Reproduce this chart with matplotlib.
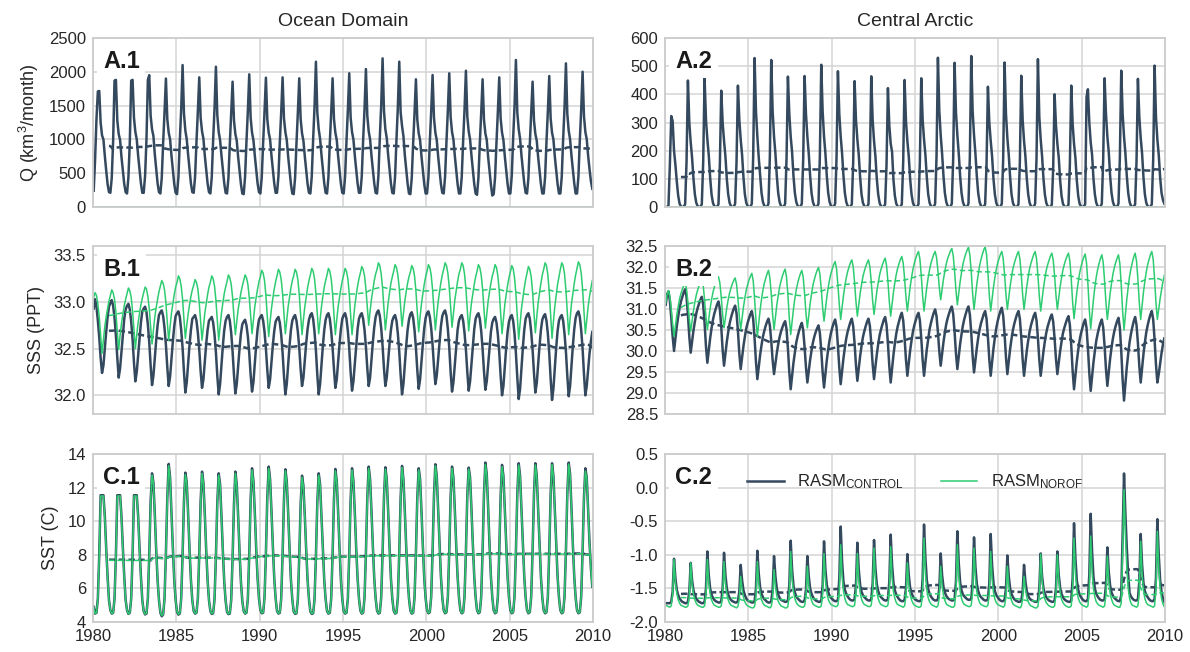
import numpy as np
import pandas as pd
import matplotlib
matplotlib.use("Agg")
import matplotlib.pyplot as plt

CTRL_COLOR = "#34495e"
NOROF_COLOR = "#2ecc71"

years = list(range(1980, 2010))
xtick_years = [1980, 1985, 1990, 1995, 2000, 2005, 2010]
col_titles = ["Ocean Domain", "Central Arctic"]
row_ylabels = ["Q (km$\\mathregular{^3}$/month)", "SSS (PPT)", "SST (C)"]
panel_labels = [["A.1", "A.2"], ["B.1", "B.2"], ["C.1", "C.2"]]
legend_labels = ["$\\mathregular{RASM_{CONTROL}}$", "$\\mathregular{RASM_{NOROF}}$"]

# ---- A.1 runoff, ocean domain (km3/month), monthly rows per year ----
q_ocean_ctrl = [
    [240, 700, 1300, 1710, 1716, 1250, 1060, 1000, 760, 540, 340, 220],
    [210, 430, 980, 1870, 1880, 1280, 1080, 990, 740, 540, 340, 220],
    [200, 440, 960, 1870, 1880, 1320, 1110, 1000, 760, 560, 350, 210],
    [210, 460, 1000, 1880, 1950, 1350, 1150, 1050, 780, 560, 350, 220],
    [200, 430, 950, 1400, 1900, 1300, 1100, 1000, 760, 550, 340, 210],
    [190, 440, 980, 1450, 2100, 1380, 1130, 1000, 770, 560, 350, 220],
    [210, 450, 960, 1420, 1918, 1320, 1120, 1010, 760, 550, 350, 220],
    [200, 440, 990, 1460, 2075, 1360, 1110, 990, 760, 560, 350, 210],
    [200, 430, 930, 1380, 1854, 1280, 1080, 980, 740, 540, 340, 200],
    [190, 450, 970, 1420, 1963, 1320, 1100, 990, 760, 550, 350, 220],
    [200, 440, 950, 1410, 1913, 1300, 1100, 1000, 760, 550, 350, 210],
    [210, 450, 960, 1400, 1918, 1310, 1110, 990, 750, 550, 340, 200],
    [190, 430, 940, 1400, 1904, 1300, 1090, 980, 750, 540, 340, 210],
    [200, 450, 1000, 1480, 2149, 1400, 1150, 1010, 770, 560, 350, 210],
    [200, 440, 950, 1400, 1904, 1300, 1100, 990, 750, 550, 340, 210],
    [200, 450, 970, 1430, 1978, 1320, 1110, 1000, 760, 550, 350, 210],
    [210, 450, 990, 1450, 2041, 1350, 1120, 1000, 760, 560, 350, 210],
    [200, 460, 1020, 1500, 2199, 1420, 1150, 1020, 770, 560, 350, 210],
    [200, 450, 1000, 1480, 2150, 1400, 1200, 1050, 770, 560, 350, 200],
    [190, 430, 940, 1390, 1889, 1290, 1090, 990, 750, 540, 340, 200],
    [200, 440, 960, 1420, 1953, 1320, 1100, 990, 750, 550, 340, 210],
    [200, 450, 970, 1430, 1978, 1330, 1110, 1000, 760, 550, 340, 200],
    [200, 450, 980, 1440, 2016, 1340, 1120, 1000, 760, 550, 340, 200],
    [180, 430, 940, 1390, 1889, 1290, 1090, 990, 740, 540, 330, 170],
    [190, 440, 950, 1410, 1918, 1310, 1100, 990, 750, 550, 340, 200],
    [200, 460, 1010, 1490, 2175, 1400, 1150, 1010, 760, 560, 350, 210],
    [200, 430, 930, 1380, 1854, 1280, 1080, 980, 740, 540, 340, 200],
    [200, 440, 960, 1420, 1938, 1310, 1100, 1000, 750, 550, 340, 200],
    [200, 450, 1000, 1470, 2125, 1380, 1130, 1000, 760, 560, 350, 200],
    [200, 450, 980, 1440, 2001, 1340, 1110, 1000, 760, 560, 380, 270],
]
# no-runoff experiment: zero river discharge in every month
q_ocean_norof = [[0] * 12 for _ in years]

# ---- A.2 runoff, central Arctic ----
q_arctic_ctrl = [
    [0, 0, 5, 150, 323, 305, 200, 150, 90, 40, 12, 2],
    [0, 0, 10, 160, 449, 300, 230, 175, 100, 45, 15, 3],
    [0, 0, 10, 160, 457, 310, 240, 185, 105, 45, 15, 3],
    [0, 0, 10, 150, 413, 300, 235, 180, 100, 45, 15, 3],
    [0, 0, 12, 160, 431, 310, 240, 185, 105, 45, 15, 3],
    [0, 0, 12, 180, 529, 340, 250, 175, 110, 50, 18, 4],
    [0, 0, 12, 180, 522, 340, 250, 190, 110, 50, 18, 4],
    [0, 0, 12, 170, 463, 330, 250, 195, 110, 50, 18, 4],
    [0, 0, 12, 170, 465, 330, 250, 190, 110, 50, 18, 4],
    [0, 0, 12, 180, 505, 340, 250, 190, 110, 50, 18, 4],
    [0, 0, 12, 175, 482, 330, 250, 190, 110, 50, 18, 4],
    [0, 0, 10, 160, 447, 310, 240, 185, 105, 45, 15, 3],
    [0, 0, 10, 160, 464, 310, 235, 180, 100, 45, 15, 3],
    [0, 0, 10, 150, 422, 290, 225, 195, 95, 40, 12, 2],
    [0, 0, 10, 160, 451, 305, 235, 180, 100, 45, 15, 3],
    [0, 0, 10, 160, 457, 310, 240, 185, 105, 45, 15, 3],
    [0, 0, 12, 180, 530, 340, 255, 190, 110, 50, 18, 4],
    [0, 0, 12, 175, 512, 335, 255, 190, 110, 50, 18, 4],
    [0, 0, 12, 180, 536, 340, 255, 190, 110, 50, 18, 4],
    [0, 0, 10, 150, 427, 300, 235, 180, 100, 45, 15, 3],
    [0, 0, 12, 175, 513, 330, 245, 185, 105, 45, 15, 3],
    [0, 0, 10, 160, 466, 310, 235, 180, 100, 45, 15, 3],
    [0, 0, 12, 175, 525, 320, 240, 180, 100, 45, 15, 3],
    [0, 0, 8, 140, 400, 290, 225, 175, 95, 40, 12, 2],
    [0, 0, 8, 150, 431, 295, 225, 175, 95, 40, 12, 2],
    [0, 0, 10, 390, 418, 300, 230, 185, 100, 45, 15, 3],
    [0, 0, 12, 170, 457, 330, 250, 195, 110, 50, 18, 4],
    [0, 0, 12, 175, 484, 330, 250, 190, 110, 50, 18, 4],
    [0, 0, 10, 165, 455, 320, 245, 190, 105, 45, 15, 3],
    [0, 0, 10, 170, 502, 320, 240, 185, 105, 50, 25, 12],
]
q_arctic_norof = [[0] * 12 for _ in years]

# ---- B.1 sea surface salinity, ocean domain (PPT) ----
sss_ocean_ctrl = [
    [32.93, 33.03, 32.95, 32.80, 32.62, 32.40, 32.24, 32.32, 32.50, 32.68, 32.84, 32.95],
    [32.99, 33.02, 32.96, 32.83, 32.64, 32.40, 32.19, 32.29, 32.47, 32.66, 32.82, 32.92],
    [32.96, 32.98, 32.92, 32.79, 32.60, 32.35, 32.15, 32.25, 32.43, 32.62, 32.78, 32.90],
    [32.93, 32.95, 32.89, 32.76, 32.57, 32.32, 32.11, 32.21, 32.40, 32.59, 32.75, 32.86],
    [32.89, 32.91, 32.85, 32.72, 32.54, 32.30, 32.10, 32.20, 32.39, 32.58, 32.74, 32.85],
    [32.88, 32.90, 32.84, 32.70, 32.51, 32.25, 32.03, 32.14, 32.34, 32.54, 32.70, 32.82],
    [32.84, 32.86, 32.80, 32.67, 32.49, 32.26, 32.08, 32.17, 32.36, 32.55, 32.70, 32.80],
    [32.82, 32.84, 32.78, 32.65, 32.46, 32.21, 32.01, 32.12, 32.32, 32.53, 32.70, 32.80],
    [32.84, 32.86, 32.80, 32.67, 32.47, 32.22, 32.02, 32.12, 32.31, 32.50, 32.66, 32.76],
    [32.79, 32.81, 32.75, 32.63, 32.45, 32.22, 32.04, 32.14, 32.34, 32.54, 32.71, 32.81],
    [32.84, 32.86, 32.80, 32.68, 32.50, 32.27, 32.08, 32.17, 32.35, 32.54, 32.69, 32.79],
    [32.82, 32.84, 32.78, 32.65, 32.46, 32.21, 32.01, 32.12, 32.32, 32.53, 32.70, 32.80],
    [32.84, 32.86, 32.80, 32.68, 32.51, 32.28, 32.10, 32.19, 32.37, 32.56, 32.71, 32.81],
    [32.86, 32.88, 32.82, 32.68, 32.48, 32.22, 32.01, 32.12, 32.32, 32.53, 32.70, 32.81],
    [32.86, 32.88, 32.82, 32.69, 32.51, 32.28, 32.08, 32.17, 32.36, 32.55, 32.71, 32.82],
    [32.86, 32.88, 32.82, 32.69, 32.50, 32.25, 32.05, 32.15, 32.34, 32.54, 32.71, 32.82],
    [32.86, 32.88, 32.82, 32.70, 32.52, 32.29, 32.10, 32.19, 32.38, 32.57, 32.73, 32.84],
    [32.89, 32.91, 32.85, 32.72, 32.53, 32.29, 32.10, 32.19, 32.37, 32.55, 32.70, 32.80],
    [32.84, 32.86, 32.80, 32.66, 32.47, 32.22, 32.01, 32.12, 32.32, 32.53, 32.70, 32.81],
    [32.87, 32.89, 32.83, 32.70, 32.51, 32.27, 32.07, 32.17, 32.36, 32.55, 32.72, 32.83],
    [32.88, 32.90, 32.84, 32.72, 32.54, 32.31, 32.12, 32.21, 32.39, 32.58, 32.74, 32.85],
    [32.89, 32.91, 32.85, 32.71, 32.51, 32.25, 32.04, 32.14, 32.33, 32.53, 32.70, 32.80],
    [32.84, 32.86, 32.80, 32.67, 32.49, 32.25, 32.05, 32.15, 32.34, 32.54, 32.71, 32.82],
    [32.86, 32.88, 32.82, 32.69, 32.50, 32.26, 32.06, 32.15, 32.33, 32.52, 32.68, 32.78],
    [32.82, 32.84, 32.78, 32.65, 32.46, 32.21, 32.00, 32.10, 32.30, 32.51, 32.68, 32.79],
    [32.84, 32.86, 32.80, 32.66, 32.45, 32.19, 31.96, 32.07, 32.29, 32.51, 32.70, 32.82],
    [32.86, 32.88, 32.82, 32.68, 32.49, 32.24, 32.03, 32.13, 32.33, 32.53, 32.70, 32.81],
    [32.85, 32.87, 32.80, 32.66, 32.45, 32.18, 31.95, 32.07, 32.29, 32.51, 32.69, 32.80],
    [32.84, 32.86, 32.80, 32.66, 32.47, 32.21, 31.99, 32.10, 32.31, 32.53, 32.71, 32.83],
    [32.88, 32.90, 32.84, 32.70, 32.50, 32.23, 32.00, 32.10, 32.28, 32.45, 32.58, 32.68],
]
sss_ocean_norof = [
    [33.05, 33.10, 33.07, 32.98, 32.84, 32.65, 32.45, 32.60, 32.74, 32.84, 32.93, 33.01],
    [33.07, 33.13, 33.10, 33.03, 32.89, 32.68, 32.49, 32.64, 32.77, 32.87, 32.96, 33.03],
    [33.09, 33.15, 33.12, 33.05, 32.90, 32.70, 32.50, 32.65, 32.78, 32.88, 32.97, 33.04],
    [33.10, 33.16, 33.14, 33.06, 32.93, 32.73, 32.55, 32.70, 32.84, 32.94, 33.03, 33.11],
    [33.17, 33.23, 33.20, 33.13, 32.99, 32.78, 32.59, 32.74, 32.88, 32.98, 33.08, 33.16],
    [33.21, 33.28, 33.25, 33.17, 33.03, 32.81, 32.61, 32.75, 32.87, 32.97, 33.06, 33.13],
    [33.18, 33.24, 33.21, 33.14, 32.99, 32.79, 32.59, 32.74, 32.88, 32.98, 33.08, 33.16],
    [33.21, 33.28, 33.25, 33.17, 33.02, 32.80, 32.59, 32.74, 32.88, 32.99, 33.09, 33.16],
    [33.22, 33.29, 33.26, 33.19, 33.05, 32.84, 32.65, 32.79, 32.92, 33.01, 33.10, 33.17],
    [33.23, 33.29, 33.26, 33.19, 33.05, 32.85, 32.66, 32.81, 32.95, 33.05, 33.14, 33.22],
    [33.27, 33.34, 33.31, 33.23, 33.07, 32.84, 32.63, 32.79, 32.93, 33.04, 33.14, 33.22],
    [33.28, 33.35, 33.32, 33.24, 33.09, 32.87, 32.66, 32.81, 32.95, 33.05, 33.15, 33.23],
    [33.28, 33.35, 33.32, 33.24, 33.08, 32.86, 32.65, 32.81, 32.95, 33.05, 33.15, 33.23],
    [33.29, 33.36, 33.33, 33.25, 33.09, 32.87, 32.66, 32.81, 32.95, 33.06, 33.16, 33.23],
    [33.29, 33.36, 33.33, 33.25, 33.09, 32.86, 32.65, 32.81, 32.95, 33.05, 33.15, 33.23],
    [33.29, 33.36, 33.33, 33.25, 33.09, 32.86, 32.65, 32.81, 32.96, 33.07, 33.17, 33.25],
    [33.31, 33.38, 33.35, 33.28, 33.14, 32.94, 32.75, 32.90, 33.03, 33.13, 33.23, 33.30],
    [33.35, 33.42, 33.39, 33.30, 33.15, 32.92, 32.70, 32.85, 32.99, 33.10, 33.20, 33.27],
    [33.33, 33.40, 33.37, 33.29, 33.15, 32.94, 32.74, 32.88, 33.01, 33.11, 33.20, 33.27],
    [33.32, 33.39, 33.36, 33.28, 33.12, 32.89, 32.68, 32.84, 32.98, 33.09, 33.19, 33.27],
    [33.33, 33.40, 33.37, 33.29, 33.13, 32.91, 32.70, 32.86, 33.00, 33.11, 33.21, 33.29],
    [33.35, 33.42, 33.39, 33.31, 33.16, 32.94, 32.73, 32.88, 33.02, 33.12, 33.22, 33.30],
    [33.35, 33.42, 33.39, 33.30, 33.14, 32.91, 32.69, 32.85, 32.99, 33.09, 33.19, 33.27],
    [33.33, 33.40, 33.37, 33.29, 33.14, 32.92, 32.72, 32.87, 33.01, 33.11, 33.20, 33.28],
    [33.33, 33.40, 33.37, 33.28, 33.12, 32.88, 32.66, 32.82, 32.97, 33.08, 33.18, 33.26],
    [33.32, 33.39, 33.36, 33.26, 33.09, 32.84, 32.60, 32.77, 32.93, 33.04, 33.15, 33.24],
    [33.31, 33.38, 33.35, 33.27, 33.11, 32.88, 32.67, 32.84, 32.99, 33.10, 33.20, 33.29],
    [33.35, 33.42, 33.39, 33.29, 33.11, 32.85, 32.61, 32.79, 32.95, 33.07, 33.19, 33.27],
    [33.35, 33.42, 33.39, 33.30, 33.13, 32.88, 32.65, 32.82, 32.98, 33.09, 33.20, 33.29],
    [33.36, 33.43, 33.40, 33.31, 33.14, 32.89, 32.66, 32.80, 32.95, 33.06, 33.15, 33.23],
]

# ---- B.2 sea surface salinity, central Arctic ----
sss_arctic_ctrl = [
    [31.10, 31.35, 31.42, 31.20, 30.80, 30.35, 30.00, 30.29, 30.59, 30.82, 31.03, 31.18],
    [31.29, 31.40, 31.47, 31.29, 30.87, 30.34, 29.96, 30.23, 30.49, 30.70, 30.89, 31.02],
    [31.13, 31.22, 31.29, 31.10, 30.66, 30.11, 29.72, 30.01, 30.30, 30.54, 30.74, 30.89],
    [31.00, 31.11, 31.18, 31.00, 30.57, 30.03, 29.65, 29.94, 30.22, 30.45, 30.65, 30.79],
    [30.91, 31.01, 31.08, 30.90, 30.48, 29.95, 29.57, 29.85, 30.12, 30.34, 30.54, 30.67],
    [30.78, 30.88, 30.95, 30.76, 30.30, 29.74, 29.33, 29.62, 29.91, 30.14, 30.34, 30.48],
    [30.60, 30.70, 30.77, 30.61, 30.24, 29.78, 29.45, 29.70, 29.95, 30.16, 30.33, 30.46],
    [30.56, 30.65, 30.71, 30.52, 30.06, 29.50, 29.09, 29.41, 29.72, 29.97, 30.20, 30.35],
    [30.48, 30.59, 30.67, 30.50, 30.10, 29.61, 29.25, 29.52, 29.79, 30.01, 30.20, 30.34],
    [30.45, 30.54, 30.61, 30.43, 30.02, 29.50, 29.13, 29.45, 29.78, 30.04, 30.26, 30.43],
    [30.56, 30.67, 30.75, 30.57, 30.13, 29.60, 29.21, 29.52, 29.83, 30.08, 30.30, 30.46],
    [30.58, 30.69, 30.77, 30.59, 30.18, 29.66, 29.29, 29.59, 29.88, 30.12, 30.33, 30.47],
    [30.59, 30.70, 30.77, 30.60, 30.19, 29.69, 29.33, 29.63, 29.92, 30.16, 30.37, 30.51],
    [30.63, 30.74, 30.81, 30.62, 30.19, 29.64, 29.25, 29.58, 29.91, 30.18, 30.41, 30.58],
    [30.71, 30.83, 30.91, 30.73, 30.31, 29.79, 29.41, 29.71, 30.01, 30.25, 30.46, 30.61],
    [30.73, 30.84, 30.91, 30.73, 30.31, 29.79, 29.41, 29.73, 30.04, 30.29, 30.52, 30.67],
    [30.80, 30.91, 30.99, 30.83, 30.45, 29.99, 29.65, 29.93, 30.21, 30.44, 30.64, 30.78],
    [30.89, 30.99, 31.06, 30.88, 30.46, 29.94, 29.57, 29.87, 30.17, 30.40, 30.61, 30.76],
    [30.88, 30.99, 31.06, 30.87, 30.43, 29.88, 29.49, 29.78, 30.07, 30.31, 30.51, 30.66],
    [30.77, 30.88, 30.95, 30.77, 30.33, 29.80, 29.41, 29.73, 30.06, 30.32, 30.54, 30.71],
    [30.84, 30.95, 31.03, 30.84, 30.40, 29.85, 29.45, 29.75, 30.05, 30.29, 30.50, 30.65],
    [30.77, 30.88, 30.95, 30.77, 30.33, 29.80, 29.41, 29.71, 30.01, 30.25, 30.46, 30.61],
    [30.73, 30.84, 30.91, 30.73, 30.31, 29.79, 29.41, 29.70, 29.99, 30.23, 30.43, 30.58],
    [30.69, 30.80, 30.87, 30.70, 30.30, 29.81, 29.45, 29.73, 30.00, 30.22, 30.42, 30.55],
    [30.66, 30.76, 30.83, 30.62, 30.13, 29.53, 29.09, 29.42, 29.75, 30.02, 30.25, 30.42],
    [30.55, 30.67, 30.75, 30.55, 30.07, 29.48, 29.05, 29.39, 29.73, 30.00, 30.24, 30.41],
    [30.55, 30.67, 30.75, 30.56, 30.12, 29.57, 29.17, 29.49, 29.82, 30.08, 30.30, 30.47],
    [30.60, 30.71, 30.79, 30.55, 30.00, 29.31, 28.82, 29.22, 29.62, 29.93, 30.21, 30.41],
    [30.57, 30.71, 30.81, 30.62, 30.19, 29.64, 29.25, 29.59, 29.93, 30.20, 30.44, 30.61],
    [30.75, 30.87, 30.95, 30.75, 30.27, 29.68, 29.25, 29.45, 29.70, 29.95, 30.15, 30.30],
]
sss_arctic_norof = [
    [31.14, 31.35, 31.44, 31.30, 31.00, 30.65, 30.35, 30.60, 30.86, 31.06, 31.24, 31.37],
    [31.47, 31.56, 31.62, 31.48, 31.16, 30.76, 30.47, 30.72, 30.96, 31.16, 31.33, 31.45],
    [31.55, 31.64, 31.70, 31.56, 31.22, 30.81, 30.51, 30.76, 31.01, 31.22, 31.39, 31.52],
    [31.62, 31.71, 31.77, 31.62, 31.28, 30.86, 30.55, 30.79, 31.03, 31.22, 31.38, 31.50],
    [31.60, 31.68, 31.74, 31.59, 31.25, 30.82, 30.51, 30.78, 31.05, 31.26, 31.45, 31.58],
    [31.69, 31.78, 31.85, 31.67, 31.25, 30.73, 30.35, 30.66, 30.98, 31.23, 31.45, 31.61],
    [31.73, 31.84, 31.92, 31.75, 31.36, 30.86, 30.51, 30.80, 31.09, 31.32, 31.52, 31.66],
    [31.78, 31.88, 31.95, 31.76, 31.33, 30.78, 30.39, 30.70, 31.00, 31.25, 31.46, 31.61],
    [31.74, 31.84, 31.92, 31.76, 31.37, 30.89, 30.55, 30.84, 31.13, 31.36, 31.56, 31.70],
    [31.82, 31.92, 31.99, 31.84, 31.48, 31.03, 30.71, 30.99, 31.28, 31.51, 31.70, 31.85],
    [31.96, 32.06, 32.13, 31.96, 31.58, 31.10, 30.75, 31.03, 31.32, 31.55, 31.74, 31.89],
    [32.00, 32.10, 32.17, 32.01, 31.63, 31.17, 30.83, 31.10, 31.37, 31.58, 31.77, 31.90],
    [32.01, 32.10, 32.17, 32.01, 31.65, 31.20, 30.87, 31.14, 31.41, 31.62, 31.81, 31.94],
    [32.05, 32.14, 32.21, 32.04, 31.66, 31.18, 30.83, 31.11, 31.40, 31.63, 31.82, 31.97],
    [32.08, 32.18, 32.25, 32.09, 31.73, 31.28, 30.95, 31.23, 31.52, 31.75, 31.94, 32.09],
    [32.20, 32.30, 32.37, 32.20, 31.80, 31.31, 30.95, 31.23, 31.52, 31.75, 31.94, 32.09],
    [32.20, 32.30, 32.37, 32.23, 31.91, 31.51, 31.22, 31.46, 31.71, 31.90, 32.07, 32.20],
    [32.29, 32.38, 32.44, 32.28, 31.90, 31.44, 31.10, 31.37, 31.65, 31.87, 32.06, 32.20],
    [32.31, 32.40, 32.47, 32.29, 31.88, 31.36, 30.99, 31.29, 31.59, 31.82, 32.03, 32.18],
    [32.30, 32.41, 32.48, 32.30, 31.87, 31.33, 30.95, 31.23, 31.52, 31.75, 31.94, 32.09],
    [32.20, 32.30, 32.37, 32.20, 31.82, 31.34, 30.99, 31.27, 31.54, 31.76, 31.96, 32.09],
    [32.20, 32.30, 32.37, 32.20, 31.82, 31.34, 30.99, 31.27, 31.54, 31.76, 31.96, 32.09],
    [32.20, 32.30, 32.37, 32.20, 31.80, 31.31, 30.95, 31.23, 31.50, 31.72, 31.92, 32.05],
    [32.16, 32.26, 32.33, 32.17, 31.79, 31.33, 30.99, 31.26, 31.53, 31.74, 31.93, 32.06],
    [32.17, 32.26, 32.33, 32.14, 31.71, 31.16, 30.77, 31.08, 31.39, 31.63, 31.85, 32.00],
    [32.13, 32.23, 32.31, 32.10, 31.60, 30.98, 30.53, 30.88, 31.23, 31.52, 31.76, 31.94],
    [32.08, 32.20, 32.29, 32.11, 31.67, 31.14, 30.75, 31.06, 31.37, 31.61, 31.83, 31.98],
    [32.11, 32.21, 32.29, 32.08, 31.57, 30.95, 30.50, 30.87, 31.23, 31.52, 31.78, 31.96],
    [32.11, 32.24, 32.33, 32.14, 31.70, 31.15, 30.75, 31.07, 31.40, 31.66, 31.88, 32.05],
    [32.18, 32.29, 32.37, 32.18, 31.72, 31.15, 30.75, 31.00, 31.25, 31.45, 31.65, 31.80],
]

# ---- C.1 sea surface temperature, ocean domain (C) ----
sst_ocean_ctrl = [
    [4.90, 4.50, 4.55, 5.40, 8.00, 11.55, 11.55, 11.55, 10.30, 8.40, 6.70, 5.30],
    [4.70, 4.50, 4.55, 5.40, 8.00, 11.55, 11.55, 11.55, 10.30, 8.40, 6.70, 5.30],
    [4.70, 4.48, 4.55, 5.40, 8.00, 11.55, 11.55, 11.55, 10.30, 8.40, 6.70, 5.30],
    [4.65, 4.45, 4.50, 5.40, 8.00, 11.20, 12.85, 12.30, 10.40, 8.30, 6.50, 5.30],
    [4.55, 4.34, 4.45, 5.40, 8.10, 11.40, 13.41, 12.60, 10.50, 8.40, 6.50, 5.30],
    [4.60, 4.44, 4.50, 5.40, 8.00, 11.20, 12.89, 12.30, 10.40, 8.30, 6.50, 5.30],
    [4.65, 4.50, 4.55, 5.40, 8.00, 11.20, 12.95, 12.30, 10.40, 8.30, 6.50, 5.30],
    [4.65, 4.48, 4.52, 5.35, 7.90, 11.10, 12.85, 12.20, 10.30, 8.20, 6.40, 5.25],
    [4.60, 4.47, 4.50, 5.30, 7.80, 11.00, 12.95, 12.20, 10.30, 8.20, 6.40, 5.25],
    [4.65, 4.50, 4.55, 5.40, 8.00, 11.30, 13.15, 12.40, 10.50, 8.40, 6.60, 5.40],
    [4.70, 4.52, 4.55, 5.45, 8.10, 11.40, 13.25, 12.50, 10.60, 8.50, 6.60, 5.40],
    [4.65, 4.50, 4.55, 5.40, 8.00, 11.30, 13.09, 12.40, 10.50, 8.40, 6.50, 5.35],
    [4.62, 4.48, 4.52, 5.35, 7.90, 11.00, 12.71, 12.10, 10.30, 8.30, 6.50, 5.35],
    [4.62, 4.48, 4.52, 5.35, 7.90, 11.10, 12.85, 12.20, 10.30, 8.30, 6.50, 5.35],
    [4.65, 4.50, 4.55, 5.40, 8.00, 11.30, 13.11, 12.40, 10.50, 8.40, 6.50, 5.35],
    [4.65, 4.50, 4.55, 5.40, 8.00, 11.30, 13.15, 12.40, 10.50, 8.40, 6.60, 5.40],
    [4.68, 4.50, 4.55, 5.45, 8.10, 11.40, 13.25, 12.50, 10.60, 8.50, 6.60, 5.40],
    [4.68, 4.50, 4.55, 5.45, 8.10, 11.40, 13.21, 12.50, 10.60, 8.50, 6.60, 5.40],
    [4.68, 4.50, 4.55, 5.45, 8.10, 11.40, 13.29, 12.50, 10.60, 8.50, 6.60, 5.40],
    [4.68, 4.50, 4.55, 5.45, 8.10, 11.40, 13.15, 12.50, 10.60, 8.50, 6.60, 5.40],
    [4.70, 4.52, 4.58, 5.50, 8.20, 11.50, 13.39, 12.70, 10.70, 8.60, 6.70, 5.45],
    [4.70, 4.52, 4.58, 5.50, 8.20, 11.50, 13.25, 12.60, 10.70, 8.60, 6.70, 5.45],
    [4.70, 4.52, 4.58, 5.50, 8.20, 11.50, 13.19, 12.60, 10.70, 8.60, 6.70, 5.45],
    [4.70, 4.52, 4.58, 5.50, 8.20, 11.60, 13.49, 12.80, 10.80, 8.60, 6.70, 5.45],
    [4.70, 4.52, 4.58, 5.50, 8.20, 11.50, 13.35, 12.70, 10.70, 8.60, 6.70, 5.45],
    [4.70, 4.52, 4.58, 5.50, 8.20, 11.60, 13.45, 12.70, 10.70, 8.60, 6.70, 5.45],
    [4.70, 4.52, 4.58, 5.50, 8.20, 11.60, 13.45, 12.70, 10.70, 8.60, 6.70, 5.45],
    [4.70, 4.52, 4.58, 5.50, 8.20, 11.60, 13.45, 12.70, 10.70, 8.60, 6.70, 5.45],
    [4.70, 4.52, 4.58, 5.50, 8.20, 11.60, 13.49, 12.80, 10.80, 8.60, 6.70, 5.45],
    [4.70, 4.52, 4.58, 5.50, 8.20, 11.40, 13.15, 12.60, 10.70, 8.70, 7.20, 6.10],
]
sst_ocean_norof = [
    [4.90, 4.50, 4.55, 5.40, 8.00, 11.50, 11.50, 11.50, 10.20, 8.30, 6.60, 5.30],
    [4.70, 4.50, 4.55, 5.40, 8.00, 11.50, 11.50, 11.50, 10.20, 8.30, 6.60, 5.30],
    [4.70, 4.48, 4.55, 5.40, 8.00, 11.50, 11.50, 11.50, 10.20, 8.30, 6.60, 5.30],
    [4.65, 4.47, 4.52, 5.40, 8.00, 11.15, 12.75, 12.25, 10.35, 8.30, 6.50, 5.30],
    [4.57, 4.38, 4.48, 5.40, 8.10, 11.35, 13.30, 12.55, 10.45, 8.40, 6.50, 5.30],
    [4.62, 4.47, 4.52, 5.40, 8.00, 11.15, 12.78, 12.25, 10.35, 8.30, 6.50, 5.30],
    [4.66, 4.52, 4.56, 5.40, 8.00, 11.15, 12.85, 12.25, 10.35, 8.30, 6.50, 5.30],
    [4.66, 4.50, 4.54, 5.35, 7.90, 11.05, 12.75, 12.15, 10.25, 8.20, 6.40, 5.25],
    [4.62, 4.49, 4.52, 5.30, 7.80, 10.95, 12.85, 12.15, 10.25, 8.20, 6.40, 5.25],
    [4.66, 4.52, 4.56, 5.40, 8.00, 11.25, 13.05, 12.35, 10.45, 8.40, 6.60, 5.40],
    [4.71, 4.54, 4.57, 5.45, 8.10, 11.35, 13.15, 12.45, 10.55, 8.50, 6.60, 5.40],
    [4.66, 4.52, 4.56, 5.40, 8.00, 11.25, 13.00, 12.35, 10.45, 8.40, 6.50, 5.35],
    [4.64, 4.50, 4.54, 5.35, 7.90, 10.95, 12.62, 12.05, 10.25, 8.30, 6.50, 5.35],
    [4.64, 4.50, 4.54, 5.35, 7.90, 11.05, 12.75, 12.15, 10.25, 8.30, 6.50, 5.35],
    [4.66, 4.52, 4.56, 5.40, 8.00, 11.25, 13.00, 12.35, 10.45, 8.40, 6.50, 5.35],
    [4.66, 4.52, 4.56, 5.40, 8.00, 11.25, 13.05, 12.35, 10.45, 8.40, 6.60, 5.40],
    [4.69, 4.52, 4.56, 5.45, 8.10, 11.35, 13.15, 12.45, 10.55, 8.50, 6.60, 5.40],
    [4.69, 4.52, 4.56, 5.45, 8.10, 11.35, 13.10, 12.45, 10.55, 8.50, 6.60, 5.40],
    [4.69, 4.52, 4.56, 5.45, 8.10, 11.35, 13.20, 12.45, 10.55, 8.50, 6.60, 5.40],
    [4.69, 4.52, 4.56, 5.45, 8.10, 11.35, 13.05, 12.45, 10.55, 8.50, 6.60, 5.40],
    [4.71, 4.54, 4.59, 5.50, 8.20, 11.45, 13.30, 12.65, 10.65, 8.60, 6.70, 5.45],
    [4.71, 4.54, 4.59, 5.50, 8.20, 11.45, 13.15, 12.55, 10.65, 8.60, 6.70, 5.45],
    [4.71, 4.54, 4.59, 5.50, 8.20, 11.45, 13.10, 12.55, 10.65, 8.60, 6.70, 5.45],
    [4.71, 4.54, 4.59, 5.50, 8.20, 11.55, 13.38, 12.75, 10.75, 8.60, 6.70, 5.45],
    [4.71, 4.54, 4.59, 5.50, 8.20, 11.45, 13.25, 12.65, 10.65, 8.60, 6.70, 5.45],
    [4.71, 4.54, 4.59, 5.50, 8.20, 11.55, 13.35, 12.65, 10.65, 8.60, 6.70, 5.45],
    [4.71, 4.54, 4.59, 5.50, 8.20, 11.55, 13.35, 12.65, 10.65, 8.60, 6.70, 5.45],
    [4.71, 4.54, 4.59, 5.50, 8.20, 11.55, 13.38, 12.65, 10.65, 8.60, 6.70, 5.45],
    [4.71, 4.54, 4.59, 5.50, 8.20, 11.55, 13.40, 12.75, 10.75, 8.60, 6.70, 5.45],
    [4.71, 4.54, 4.59, 5.50, 8.20, 11.35, 12.98, 12.55, 10.65, 8.70, 7.20, 6.10],
]

# ---- C.2 sea surface temperature, central Arctic ----
sst_arctic_ctrl = [
    [-1.72, -1.72, -1.72, -1.72, -1.70, -1.55, -1.06, -1.35, -1.52, -1.60, -1.65, -1.68],
    [-1.70, -1.71, -1.72, -1.72, -1.70, -1.55, -1.12, -1.38, -1.53, -1.60, -1.65, -1.68],
    [-1.70, -1.71, -1.72, -1.72, -1.70, -1.50, -0.95, -1.30, -1.50, -1.59, -1.64, -1.67],
    [-1.69, -1.70, -1.71, -1.71, -1.69, -1.50, -0.97, -1.30, -1.50, -1.59, -1.64, -1.67],
    [-1.69, -1.70, -1.71, -1.71, -1.69, -1.55, -1.15, -1.38, -1.53, -1.60, -1.65, -1.68],
    [-1.69, -1.70, -1.71, -1.71, -1.69, -1.50, -0.94, -1.28, -1.49, -1.58, -1.63, -1.66],
    [-1.68, -1.70, -1.71, -1.71, -1.69, -1.52, -1.02, -1.32, -1.50, -1.59, -1.64, -1.67],
    [-1.68, -1.69, -1.70, -1.70, -1.68, -1.45, -0.79, -1.22, -1.46, -1.56, -1.62, -1.65],
    [-1.67, -1.69, -1.70, -1.70, -1.68, -1.52, -1.02, -1.32, -1.50, -1.58, -1.63, -1.66],
    [-1.68, -1.69, -1.70, -1.70, -1.68, -1.45, -0.80, -1.22, -1.45, -1.55, -1.61, -1.64],
    [-1.66, -1.68, -1.69, -1.69, -1.67, -1.35, -0.58, -1.10, -1.40, -1.52, -1.58, -1.62],
    [-1.65, -1.67, -1.68, -1.68, -1.66, -1.45, -0.82, -1.22, -1.45, -1.55, -1.60, -1.63],
    [-1.65, -1.67, -1.68, -1.68, -1.66, -1.43, -0.78, -1.20, -1.44, -1.54, -1.60, -1.63],
    [-1.65, -1.67, -1.68, -1.68, -1.66, -1.40, -0.70, -1.15, -1.42, -1.53, -1.59, -1.63],
    [-1.66, -1.68, -1.69, -1.69, -1.67, -1.50, -0.99, -1.30, -1.49, -1.57, -1.62, -1.65],
    [-1.67, -1.68, -1.69, -1.69, -1.67, -1.35, -0.55, -1.05, -1.38, -1.51, -1.58, -1.62],
    [-1.65, -1.67, -1.68, -1.68, -1.66, -1.50, -0.98, -1.30, -1.48, -1.56, -1.61, -1.64],
    [-1.66, -1.67, -1.68, -1.68, -1.66, -1.40, -0.65, -1.12, -1.41, -1.53, -1.59, -1.62],
    [-1.64, -1.66, -1.67, -1.67, -1.65, -1.42, -0.74, -1.18, -1.43, -1.54, -1.60, -1.63],
    [-1.65, -1.67, -1.68, -1.68, -1.66, -1.42, -0.69, -1.15, -1.42, -1.54, -1.60, -1.63],
    [-1.66, -1.68, -1.69, -1.69, -1.67, -1.50, -1.01, -1.32, -1.50, -1.58, -1.63, -1.66],
    [-1.68, -1.69, -1.70, -1.70, -1.68, -1.55, -1.15, -1.40, -1.54, -1.61, -1.65, -1.67],
    [-1.68, -1.69, -1.70, -1.70, -1.68, -1.50, -0.98, -1.32, -1.50, -1.58, -1.63, -1.66],
    [-1.68, -1.69, -1.70, -1.70, -1.68, -1.50, -0.95, -1.30, -1.49, -1.58, -1.63, -1.66],
    [-1.68, -1.69, -1.70, -1.70, -1.68, -1.35, -0.53, -1.05, -1.38, -1.52, -1.59, -1.63],
    [-1.66, -1.68, -1.69, -1.69, -1.66, -1.30, -0.39, -0.95, -1.33, -1.50, -1.58, -1.62],
    [-1.65, -1.67, -1.68, -1.68, -1.66, -1.45, -0.89, -1.25, -1.46, -1.56, -1.61, -1.64],
    [-1.66, -1.68, -1.69, -1.69, -1.60, -0.70, 0.21, -0.40, -0.90, -1.30, -1.57, -1.62],
    [-1.65, -1.67, -1.68, -1.68, -1.66, -1.40, -0.69, -1.15, -1.42, -1.54, -1.60, -1.63],
    [-1.66, -1.68, -1.69, -1.69, -1.66, -1.35, -0.47, -1.00, -1.38, -1.55, -1.65, -1.70],
]
sst_arctic_norof = [
    [-1.75, -1.76, -1.77, -1.78, -1.76, -1.60, -1.07, -1.42, -1.58, -1.67, -1.72, -1.75],
    [-1.76, -1.77, -1.78, -1.78, -1.76, -1.62, -1.12, -1.44, -1.59, -1.67, -1.72, -1.75],
    [-1.76, -1.77, -1.78, -1.78, -1.76, -1.60, -1.07, -1.42, -1.58, -1.67, -1.72, -1.75],
    [-1.76, -1.77, -1.78, -1.78, -1.76, -1.61, -1.10, -1.43, -1.58, -1.67, -1.72, -1.75],
    [-1.76, -1.77, -1.78, -1.79, -1.77, -1.66, -1.32, -1.52, -1.63, -1.70, -1.74, -1.76],
    [-1.77, -1.78, -1.79, -1.79, -1.77, -1.61, -1.10, -1.43, -1.58, -1.67, -1.72, -1.75],
    [-1.76, -1.77, -1.78, -1.79, -1.77, -1.64, -1.22, -1.48, -1.61, -1.69, -1.73, -1.76],
    [-1.77, -1.78, -1.79, -1.79, -1.77, -1.57, -0.95, -1.36, -1.55, -1.65, -1.71, -1.74],
    [-1.76, -1.77, -1.78, -1.78, -1.76, -1.63, -1.17, -1.46, -1.60, -1.68, -1.73, -1.75],
    [-1.76, -1.77, -1.78, -1.78, -1.76, -1.58, -0.98, -1.38, -1.56, -1.66, -1.71, -1.74],
    [-1.75, -1.76, -1.77, -1.77, -1.75, -1.55, -0.85, -1.32, -1.54, -1.65, -1.71, -1.74],
    [-1.75, -1.76, -1.77, -1.77, -1.75, -1.58, -0.98, -1.38, -1.56, -1.66, -1.71, -1.74],
    [-1.75, -1.76, -1.77, -1.77, -1.75, -1.56, -0.90, -1.35, -1.55, -1.65, -1.71, -1.74],
    [-1.75, -1.76, -1.77, -1.77, -1.75, -1.56, -0.88, -1.34, -1.55, -1.65, -1.71, -1.74],
    [-1.75, -1.76, -1.77, -1.78, -1.76, -1.62, -1.12, -1.44, -1.59, -1.67, -1.72, -1.75],
    [-1.76, -1.77, -1.78, -1.78, -1.76, -1.52, -0.75, -1.28, -1.52, -1.64, -1.70, -1.73],
    [-1.75, -1.76, -1.77, -1.78, -1.76, -1.63, -1.17, -1.46, -1.60, -1.68, -1.73, -1.75],
    [-1.76, -1.77, -1.78, -1.78, -1.76, -1.55, -0.85, -1.32, -1.54, -1.65, -1.71, -1.74],
    [-1.75, -1.76, -1.77, -1.77, -1.75, -1.56, -0.90, -1.35, -1.55, -1.65, -1.71, -1.74],
    [-1.75, -1.76, -1.77, -1.77, -1.75, -1.57, -0.95, -1.36, -1.56, -1.66, -1.71, -1.74],
    [-1.75, -1.76, -1.77, -1.78, -1.76, -1.63, -1.17, -1.46, -1.60, -1.68, -1.73, -1.75],
    [-1.76, -1.77, -1.78, -1.79, -1.77, -1.66, -1.32, -1.52, -1.63, -1.70, -1.74, -1.76],
    [-1.77, -1.78, -1.79, -1.79, -1.77, -1.59, -0.99, -1.38, -1.56, -1.66, -1.71, -1.74],
    [-1.76, -1.77, -1.78, -1.78, -1.76, -1.59, -1.00, -1.38, -1.56, -1.66, -1.71, -1.74],
    [-1.76, -1.77, -1.78, -1.78, -1.76, -1.52, -0.75, -1.28, -1.52, -1.64, -1.70, -1.73],
    [-1.75, -1.76, -1.77, -1.78, -1.76, -1.50, -0.72, -1.26, -1.51, -1.63, -1.70, -1.73],
    [-1.75, -1.76, -1.77, -1.78, -1.76, -1.60, -1.02, -1.40, -1.57, -1.66, -1.72, -1.75],
    [-1.76, -1.77, -1.78, -1.78, -1.72, -0.95, -0.03, -0.70, -1.20, -1.50, -1.65, -1.72],
    [-1.75, -1.76, -1.77, -1.78, -1.76, -1.55, -0.80, -1.30, -1.53, -1.65, -1.71, -1.74],
    [-1.75, -1.76, -1.77, -1.78, -1.76, -1.52, -0.65, -1.20, -1.50, -1.65, -1.73, -1.77],
]

# axis limits / ticks for each panel (row, col)
ylims = [[(0, 2500), (0, 600)], [(31.8, 33.6), (28.5, 32.5)], [(4, 14), (-2.0, 0.5)]]
yticks = [
    [[0, 500, 1000, 1500, 2000, 2500], [0, 100, 200, 300, 400, 500, 600]],
    [[32.0, 32.5, 33.0, 33.5], [28.5, 29.0, 29.5, 30.0, 30.5, 31.0, 31.5, 32.0, 32.5]],
    [[4, 6, 8, 10, 12, 14], [-2.0, -1.5, -1.0, -0.5, 0.0, 0.5]],
]
ytick_fmt = [["{:.0f}", "{:.0f}"], ["{:.1f}", "{:.1f}"], ["{:.0f}", "{:.1f}"]]

series = [
    [(q_ocean_ctrl, q_ocean_norof), (q_arctic_ctrl, q_arctic_norof)],
    [(sss_ocean_ctrl, sss_ocean_norof), (sss_arctic_ctrl, sss_arctic_norof)],
    [(sst_ocean_ctrl, sst_ocean_norof), (sst_arctic_ctrl, sst_arctic_norof)],
]

plt.rcParams['font.family'] = ['Liberation Sans', 'DejaVu Sans']
plt.rcParams['mathtext.default'] = 'regular'

W, H = 1190, 652
fig = plt.figure(figsize=(W / 100, H / 100), dpi=100)
fig.patch.set_facecolor('white')

col_px = [(93, 593), (665, 1165)]
row_px = [(38, 207), (246, 414), (454, 622)]

def flat(rows):
    return np.concatenate([np.asarray(r, dtype=float) for r in rows])

for r in range(3):
    for c in range(2):
        x0, x1 = col_px[c]
        y0, y1 = row_px[r]
        ax = fig.add_axes([x0 / W, 1 - y1 / H, (x1 - x0) / W, (y1 - y0) / H])
        ax.set_facecolor('white')
        ax.grid(True, color='#d4d4d4', lw=1.1)
        ax.set_axisbelow(True)
        for s in ax.spines.values():
            s.set_color('#cccccc')
            s.set_linewidth(1.3)
        ctrl_rows, norof_rows = series[r][c]
        yc = flat(ctrl_rows)
        yn = flat(norof_rows)
        xc = 1980 + (np.arange(len(yc)) + 0.5) / 12.0
        xn = 1980 + (np.arange(len(yn)) + 0.5) / 12.0
        mc = pd.Series(yc).rolling(12).mean().values
        mn = pd.Series(yn).rolling(12).mean().values
        l1, = ax.plot(xc, yc, color=CTRL_COLOR, lw=1.8, solid_joinstyle='round')
        ax.plot(xc, mc, color=CTRL_COLOR, lw=1.8, ls=(0, (2.6, 1.3)))
        l2, = ax.plot(xn, yn, color=NOROF_COLOR, lw=1.1)
        ax.plot(xn, mn, color=NOROF_COLOR, lw=1.1, ls=(0, (3.5, 2.0)))
        ax.set_xlim(1980, 2010)
        ax.set_xticks(xtick_years)
        ax.set_ylim(*ylims[r][c])
        ax.set_yticks(yticks[r][c])
        ax.set_yticklabels([ytick_fmt[r][c].format(v) for v in yticks[r][c]])
        if r == 2:
            ax.set_xticklabels([str(v) for v in xtick_years])
        else:
            ax.set_xticklabels([])
        ax.tick_params(length=0, labelsize=12, colors='#262626', pad=5)
        if c == 0:
            ax.set_ylabel(row_ylabels[r], fontsize=13, color='#262626', labelpad=6)
        ax.text(0.02, 0.93, panel_labels[r][c], transform=ax.transAxes,
                fontsize=17, fontweight='bold', color='#1a1a1a', va='top', ha='left',
                bbox=dict(facecolor='white', edgecolor='none', pad=4), zorder=5)
        if r == 0:
            ax.set_title(col_titles[c], fontsize=14, color='#262626', pad=9)
        if (r, c) == (2, 1):
            leg = ax.legend([l1, l2], legend_labels, loc='upper center',
                            bbox_to_anchor=(0.5, 0.98), ncol=2, frameon=False,
                            fontsize=12, handlelength=2.2, columnspacing=2.2,
                            handletextpad=0.8)
            for t in leg.get_texts():
                t.set_color('#262626')

fig.savefig('out.png', dpi=100, facecolor='white')
